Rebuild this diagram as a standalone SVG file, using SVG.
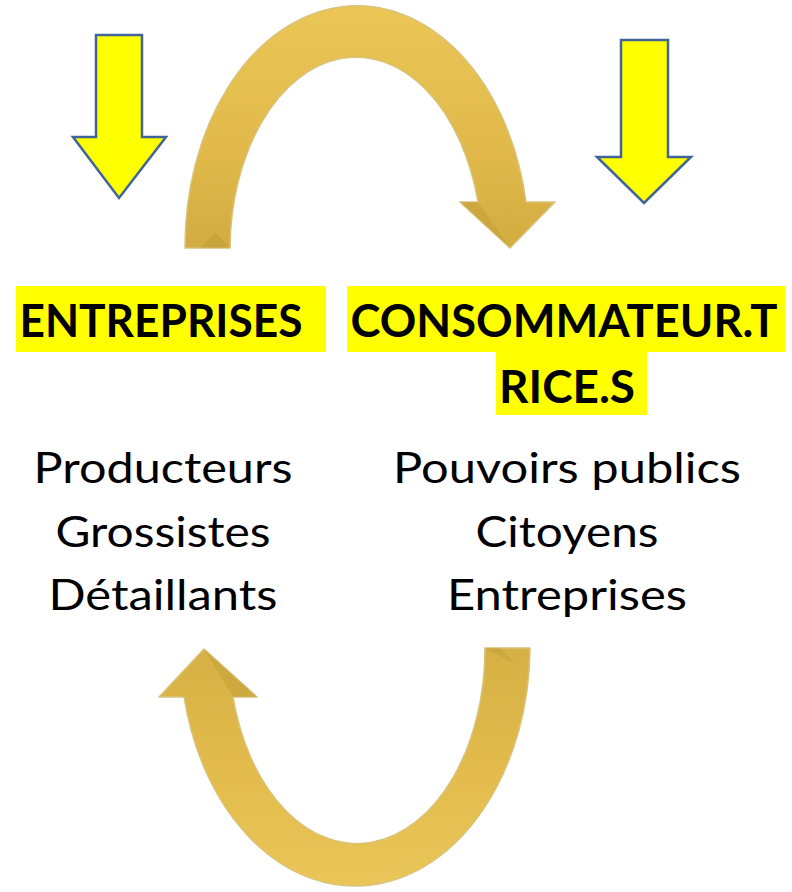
<svg xmlns="http://www.w3.org/2000/svg" width="792" height="892" viewBox="0 0 792 892">
  <defs>
    <linearGradient id="goldTop" x1="0" y1="0" x2="0" y2="1">
      <stop offset="0" stop-color="#EBC656"/>
      <stop offset="0.6" stop-color="#E0B94A"/>
      <stop offset="1" stop-color="#D2AC42"/>
    </linearGradient>
    <linearGradient id="goldBot" x1="0" y1="0" x2="0" y2="1">
      <stop offset="0" stop-color="#D6B044"/>
      <stop offset="0.5" stop-color="#E2BB4C"/>
      <stop offset="1" stop-color="#EAC557"/>
    </linearGradient>
    <style>
      .gold { stroke: #D9C27A; stroke-width: 1.5; stroke-linejoin: round; }
      .facet { fill: #B8942F; opacity: 0.35; }
      .yarrow { fill: #FFFF00; stroke: #41649B; stroke-width: 2.5; stroke-linejoin: miter; }
      .hl { fill: #FFFF00; }
      .title { font-family: Lato, "Liberation Sans", sans-serif; font-weight: 700; font-size: 46px; fill: #000; text-anchor: middle; }
      .body { font-family: Lato, "Liberation Sans", sans-serif; font-weight: 400; font-size: 42px; fill: #000; text-anchor: middle; }
    </style>
  </defs>
  <rect width="792" height="892" fill="#FFFFFF"/>

  <g id="connectors">
    <g id="arc-top">
      <path class="gold" fill="url(#goldTop)" d="M185,248 A172,241 0 0 1 526,202 L555,202 L510,248 L460,202 L478,202 A126,193 0 0 0 230,248 Z"/>
      <polygon class="facet" points="460,202 478,202 510,248"/>
      <polygon class="facet" points="215,232 230,248 200,248"/>
    </g>
    <g id="arc-bottom">
      <path class="gold" fill="url(#goldBot)" d="M530,648 A175,240 0 0 1 184,697 L159,697 L204,649 L257,697 L233,697 A128,195 0 0 0 485,648 Z"/>
      <polygon class="facet" points="204,649 257,697 233,697"/>
      <polygon class="facet" points="485,648 500,648 515,664"/>
    </g>
    <path id="arrow-left" class="yarrow" d="M96,35 H142 V137 H166 L119,198 L73,137 H96 Z"/>
    <path id="arrow-right" class="yarrow" d="M621,40 H668 V157 H691 L644,203 L597,157 H621 Z"/>
  </g>

  <g id="node-entreprises">
    <rect class="hl" x="16" y="286" width="310" height="66"/>
    <text class="title" x="161" y="337" textLength="283" lengthAdjust="spacingAndGlyphs">ENTREPRISES</text>
  </g>

  <g id="node-consommateurs">
    <rect class="hl" x="347" y="286" width="438" height="66"/>
    <rect class="hl" x="496" y="351" width="151" height="64"/>
    <text class="title" x="564" y="337" textLength="427" lengthAdjust="spacingAndGlyphs">CONSOMMATEUR.T</text>
    <text class="title" x="567" y="403" textLength="136" lengthAdjust="spacingAndGlyphs">RICE.S</text>
  </g>

  <g id="list-entreprises">
    <text class="body" x="163" y="483" textLength="259" lengthAdjust="spacingAndGlyphs">Producteurs</text>
    <text class="body" x="163" y="547" textLength="215" lengthAdjust="spacingAndGlyphs">Grossistes</text>
    <text class="body" x="163" y="610" textLength="229" lengthAdjust="spacingAndGlyphs">Détaillants</text>
  </g>

  <g id="list-consommateurs">
    <text class="body" x="567" y="483" textLength="348" lengthAdjust="spacingAndGlyphs">Pouvoirs publics</text>
    <text class="body" x="567" y="547" textLength="183" lengthAdjust="spacingAndGlyphs">Citoyens</text>
    <text class="body" x="567" y="610" textLength="240" lengthAdjust="spacingAndGlyphs">Entreprises</text>
  </g>
</svg>
